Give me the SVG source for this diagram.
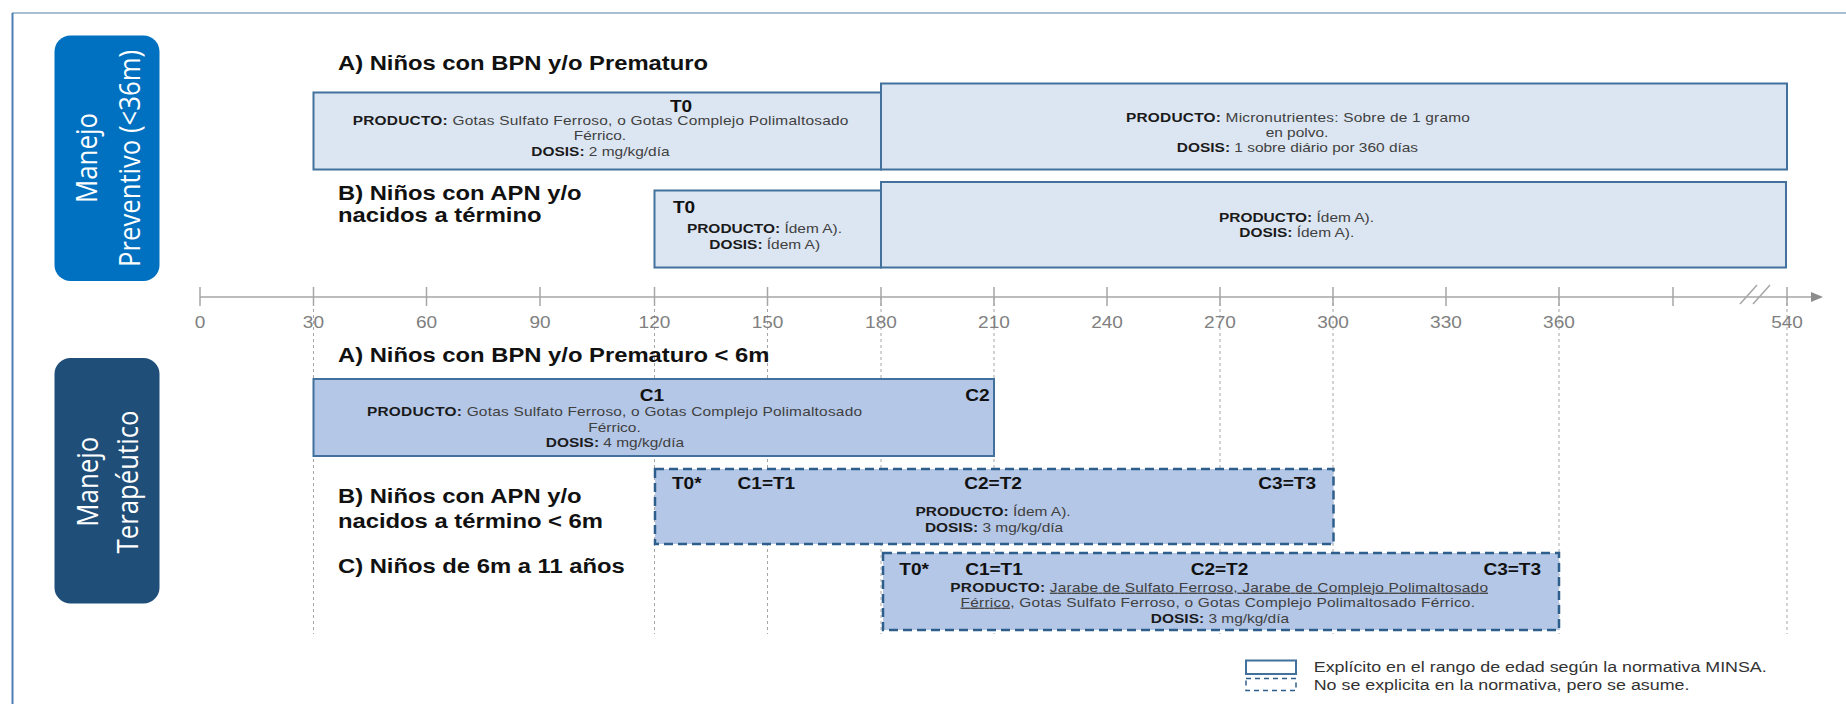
<svg xmlns="http://www.w3.org/2000/svg" width="1846" height="704" viewBox="0 0 1846 704">
  <style>
    text { font-family: "Liberation Sans", Arial, sans-serif; }
    .ttl { font-size: 20px; font-weight: bold; fill: #111; }
    .sm { font-size: 13px; fill: #404040; }
    .b { font-weight: bold; fill: #1a1a1a; }
    .lbl { font-size: 16px; font-weight: bold; fill: #111; }
    .mid { text-anchor: middle; }
    .end { text-anchor: end; }
    .tick { font-size: 16px; fill: #808080; text-anchor: middle; }
    .leg { font-size: 15px; fill: #333; }
    .side { font-family: "Open Sans", "Liberation Sans", sans-serif; font-size: 24px; fill: #fff; text-anchor: middle; }
    .box1 { fill: #dce6f2; stroke: #41719c; stroke-width: 2; }
    .box2 { fill: #b4c7e7; stroke: #41719c; stroke-width: 2; }
    .dash { fill: #b4c7e7; stroke: #2e5f8c; stroke-width: 2.5; stroke-dasharray: 9 5; }
    .grid { stroke: #a6a6a6; stroke-width: 1; stroke-dasharray: 3 3; fill: none; }
    .axis { stroke: #a6a6a6; stroke-width: 1.5; fill: none; }
    .u { text-decoration: underline; }
  </style>

  <rect width="1846" height="704" fill="#ffffff"/>

  <!-- page frame -->
  <line x1="12" y1="13" x2="1846" y2="13" stroke="#8da9c4" stroke-width="1.5"/>
  <line x1="12.5" y1="13" x2="12.5" y2="704" stroke="#4f7fb4" stroke-width="2"/>

  <!-- section tags -->
  <g id="tag-preventivo">
    <rect x="54.5" y="35.5" width="105" height="245.5" rx="16" fill="#0070c0"/>
    <g transform="translate(97,158) scale(1.19,1) rotate(-90)">
      <text class="side" x="0" y="0" textLength="90" lengthAdjust="spacingAndGlyphs">Manejo</text>
    </g>
    <g transform="translate(140.4,158.5) scale(1.19,1) rotate(-90)">
      <text class="side" x="0" y="0" textLength="217" lengthAdjust="spacingAndGlyphs">Preventivo (&lt;36m)</text>
    </g>
  </g>
  <g id="tag-terapeutico">
    <rect x="54.5" y="358" width="105" height="245.5" rx="16" fill="#1f4e79"/>
    <g transform="translate(98.3,481.7) scale(1.19,1) rotate(-90)">
      <text class="side" x="0" y="0" textLength="90" lengthAdjust="spacingAndGlyphs">Manejo</text>
    </g>
    <g transform="translate(138.3,482) scale(1.19,1) rotate(-90)">
      <text class="side" x="0" y="0" textLength="143" lengthAdjust="spacingAndGlyphs">Terapéutico</text>
    </g>
  </g>

  <!-- day axis with guide lines -->
  <g id="axis">
    <g class="grid">
      <line x1="313.5" y1="297" x2="313.5" y2="634"/>
      <line x1="654.5" y1="297" x2="654.5" y2="634"/>
      <line x1="767.5" y1="297" x2="767.5" y2="634"/>
      <line x1="881" y1="297" x2="881" y2="634"/>
      <line x1="994" y1="297" x2="994" y2="634"/>
      <line x1="1220" y1="297" x2="1220" y2="634"/>
      <line x1="1333" y1="297" x2="1333" y2="634"/>
      <line x1="1559" y1="297" x2="1559" y2="634"/>
      <line x1="1787" y1="297" x2="1787" y2="634"/>
    </g>
    <line class="axis" x1="200" y1="297" x2="1813" y2="297"/>
    <polygon points="1811,292 1823,297 1811,302" fill="#8c8c8c"/>
    <g class="axis">
      <line x1="200" y1="287" x2="200" y2="306"/>
      <line x1="313.5" y1="287" x2="313.5" y2="306"/>
      <line x1="426.5" y1="287" x2="426.5" y2="306"/>
      <line x1="540" y1="287" x2="540" y2="306"/>
      <line x1="654.5" y1="287" x2="654.5" y2="306"/>
      <line x1="767.5" y1="287" x2="767.5" y2="306"/>
      <line x1="881" y1="287" x2="881" y2="306"/>
      <line x1="994" y1="287" x2="994" y2="306"/>
      <line x1="1107" y1="287" x2="1107" y2="306"/>
      <line x1="1220" y1="287" x2="1220" y2="306"/>
      <line x1="1333" y1="287" x2="1333" y2="306"/>
      <line x1="1446" y1="287" x2="1446" y2="306"/>
      <line x1="1559" y1="287" x2="1559" y2="306"/>
      <line x1="1673" y1="287" x2="1673" y2="306"/>
      <line x1="1787" y1="287" x2="1787" y2="306"/>
      <line x1="1740" y1="304" x2="1757" y2="285"/>
      <line x1="1753" y1="304" x2="1770" y2="285"/>
    </g>
    <g transform="scale(1.19,1)">
      <text class="tick" x="168.1" y="328">0</text>
      <text class="tick" x="263.4" y="328">30</text>
      <text class="tick" x="358.4" y="328">60</text>
      <text class="tick" x="453.8" y="328">90</text>
      <text class="tick" x="550" y="328">120</text>
      <text class="tick" x="645" y="328">150</text>
      <text class="tick" x="740.3" y="328">180</text>
      <text class="tick" x="835.3" y="328">210</text>
      <text class="tick" x="930.3" y="328">240</text>
      <text class="tick" x="1025.2" y="328">270</text>
      <text class="tick" x="1120.2" y="328">300</text>
      <text class="tick" x="1215.1" y="328">330</text>
      <text class="tick" x="1310.1" y="328">360</text>
      <text class="tick" x="1501.7" y="328">540</text>
    </g>
  </g>

  <!-- preventive scheme -->
  <g id="prev-a-title" transform="scale(1.19,1)">
    <text class="ttl" x="284" y="70.5">A) Niños con BPN y/o Prematuro</text>
  </g>
  <g id="prev-a-t0">
    <rect class="box1" x="313.5" y="92.5" width="567.5" height="77"/>
    <g transform="scale(1.19,1)">
      <text class="lbl mid" x="572.3" y="112.3">T0</text>
      <text class="sm" x="296.4" y="125.5" textLength="416.5" lengthAdjust="spacing"><tspan class="b">PRODUCTO:</tspan> Gotas Sulfato Ferroso, o Gotas Complejo Polimaltosado</text>
      <text class="sm mid" x="504.2" y="140.5">Férrico.</text>
      <text class="sm mid" x="504.6" y="156.5"><tspan class="b">DOSIS:</tspan> 2 mg/kg/día</text>
    </g>
  </g>
  <g id="prev-a-micro">
    <rect class="box1" x="881" y="83.5" width="906" height="86"/>
    <g transform="scale(1.19,1)">
      <text class="sm" x="946.2" y="121.7" textLength="289" lengthAdjust="spacing"><tspan class="b">PRODUCTO:</tspan> Micronutrientes: Sobre de 1 gramo</text>
      <text class="sm mid" x="1089.9" y="136.7">en polvo.</text>
      <text class="sm mid" x="1090.3" y="152.3"><tspan class="b">DOSIS:</tspan> 1 sobre diário por 360 días</text>
    </g>
  </g>
  <g id="prev-b-title" transform="scale(1.19,1)">
    <text class="ttl" x="284" y="200">B) Niños con APN y/o</text>
    <text class="ttl" x="284" y="222">nacidos a término</text>
  </g>
  <g id="prev-b-t0">
    <rect class="box1" x="654.5" y="190.5" width="226.5" height="77"/>
    <g transform="scale(1.19,1)">
      <text class="lbl" x="565.5" y="212.7">T0</text>
      <text class="sm mid" x="642.4" y="233.3"><tspan class="b">PRODUCTO:</tspan> Ídem A).</text>
      <text class="sm mid" x="642.6" y="249"><tspan class="b">DOSIS:</tspan> Ídem A)</text>
    </g>
  </g>
  <g id="prev-b-micro">
    <rect class="box1" x="881" y="182" width="905" height="85.5"/>
    <g transform="scale(1.19,1)">
      <text class="sm mid" x="1089.5" y="221.7"><tspan class="b">PRODUCTO:</tspan> Ídem A).</text>
      <text class="sm mid" x="1089.7" y="236.7"><tspan class="b">DOSIS:</tspan> Ídem A).</text>
    </g>
  </g>

  <!-- therapeutic scheme -->
  <g id="ter-a-title" transform="scale(1.19,1)">
    <text class="ttl" x="284" y="361.7">A) Niños con BPN y/o Prematuro &lt; 6m</text>
  </g>
  <g id="ter-a">
    <rect class="box2" x="313.5" y="379" width="680.5" height="77"/>
    <g transform="scale(1.19,1)">
      <text class="lbl mid" x="547.9" y="401">C1</text>
      <text class="lbl end" x="831.5" y="401">C2</text>
      <text class="sm" x="308.4" y="416" textLength="416" lengthAdjust="spacing"><tspan class="b">PRODUCTO:</tspan> Gotas Sulfato Ferroso, o Gotas Complejo Polimaltosado</text>
      <text class="sm mid" x="516.4" y="431.7">Férrico.</text>
      <text class="sm mid" x="516.8" y="446.7"><tspan class="b">DOSIS:</tspan> 4 mg/kg/día</text>
    </g>
  </g>
  <g id="ter-b-title" transform="scale(1.19,1)">
    <text class="ttl" x="284" y="503.3">B) Niños con APN y/o</text>
    <text class="ttl" x="284" y="528.3">nacidos a término &lt; 6m</text>
  </g>
  <g id="ter-c-title" transform="scale(1.19,1)">
    <text class="ttl" x="284" y="573.3">C) Niños de 6m a 11 años</text>
  </g>
  <g id="ter-b">
    <rect class="dash" x="655" y="469" width="678.5" height="75"/>
    <g transform="scale(1.19,1)">
      <text class="lbl" x="564.7" y="489.3">T0*</text>
      <text class="lbl" x="619.8" y="489.3">C1=T1</text>
      <text class="lbl mid" x="834.5" y="489.3">C2=T2</text>
      <text class="lbl end" x="1105.9" y="489.3">C3=T3</text>
      <text class="sm mid" x="834.5" y="516"><tspan class="b">PRODUCTO:</tspan> Ídem A).</text>
      <text class="sm mid" x="835.3" y="531.7"><tspan class="b">DOSIS:</tspan> 3 mg/kg/día</text>
    </g>
  </g>
  <g id="ter-c">
    <rect class="dash" x="883" y="553" width="676" height="77"/>
    <g transform="scale(1.19,1)">
      <text class="lbl" x="755.7" y="575">T0*</text>
      <text class="lbl mid" x="835.3" y="575">C1=T1</text>
      <text class="lbl mid" x="1024.8" y="575">C2=T2</text>
      <text class="lbl end" x="1295" y="575">C3=T3</text>
      <text class="sm" x="798.6" y="591.7" textLength="451.8" lengthAdjust="spacing"><tspan class="b">PRODUCTO:</tspan> <tspan class="u">Jarabe de Sulfato Ferroso, Jarabe de Complejo Polimaltosado</tspan></text>
      <text class="sm" x="807.2" y="606.7" textLength="432.3" lengthAdjust="spacing"><tspan class="u">Férrico</tspan>, Gotas Sulfato Ferroso, o Gotas Complejo Polimaltosado Férrico.</text>
      <text class="sm mid" x="1025.2" y="622.7"><tspan class="b">DOSIS:</tspan> 3 mg/kg/día</text>
    </g>
  </g>

  <!-- legend -->
  <g id="legend">
    <rect x="1246" y="660.5" width="50" height="13.5" fill="#ffffff" stroke="#41719c" stroke-width="2"/>
    <rect x="1246" y="678.5" width="50" height="12" fill="#ffffff" stroke="#2e5f8c" stroke-width="1.5" stroke-dasharray="5 4"/>
    <g transform="scale(1.19,1)">
      <text class="leg" x="1104" y="672.3">Explícito en el rango de edad según la normativa MINSA.</text>
      <text class="leg" x="1104" y="690">No se explicita en la normativa, pero se asume.</text>
    </g>
  </g>
</svg>
